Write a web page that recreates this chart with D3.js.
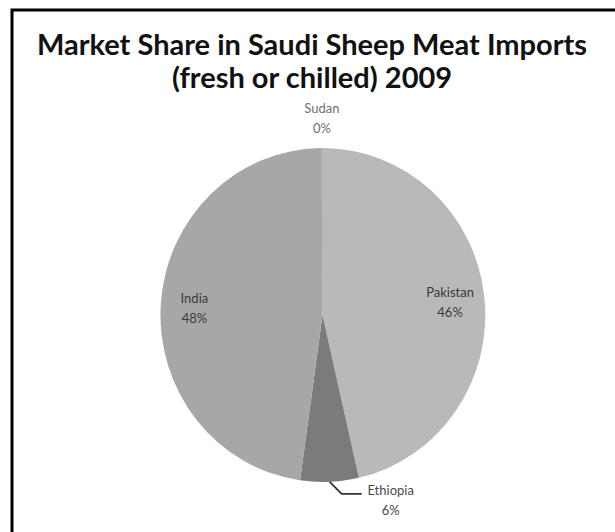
<!doctype html>
<html lang="en">
<head>
  <meta charset="utf-8">
  <title>Market Share in Saudi Sheep Meat Imports</title>
  <style>
    body { margin: 0; background: #fff; }
    svg { display: block; }
  </style>
</head>
<body>
<div id="chart"></div>

<script src="https://cdnjs.cloudflare.com/ajax/libs/d3/7.8.5/d3.min.js"></script>
<script>

// data (order as drawn clockwise from 12 o'clock)
const countries = ["Pakistan", "Ethiopia", "India", "Sudan"]
const shares = [46.4, 5.8, 47.7, 0.1]
const titleLines = ["Market Share in Saudi Sheep Meat Imports", "(fresh or chilled) 2009"]

const w = 615, h = 532

const svg = d3.select("#chart").append("svg")
  .attr("width", w)
  .attr("height", h)

// frame, only top and left edges are inside the picture
svg.append("rect")
  .attr("x", 12).attr("y", 10)
  .attr("width", w + 20).attr("height", h + 20)
  .attr("fill", "none")
  .attr("stroke", "#000")
  .attr("stroke-width", 3)

// title
svg.append("g").selectAll("text")
  .data(titleLines)
  .join("text")
    .attr("x", 312)
    .attr("y", (d, i) => 55 + i * 33)
    .attr("text-anchor", "middle")
    .style("font-family", "Lato, 'Open Sans', sans-serif")
    .style("font-weight", "bold")
    .style("font-size", "29px")
    .style("fill", "#111")
    .text(d => d)

// pie is a little taller than wide in the picture
const cx = 322.5, cy = 315, rx = 162.5, ry = 167

const data = countries.map((c, i) => ({ country: c, value: shares[i] }))

const pie = d3.pie().sort(null).value(d => d.value)
const arcs = pie(data)

const color = d3.scaleOrdinal()
  .domain(countries)
  .range(["#b9b9b9", "#7b7b7b", "#a7a7a7", "#909090"])

const arc = d3.arc().innerRadius(0).outerRadius(1)

svg.append("g")
  .attr("transform", `translate(${cx},${cy}) scale(${rx},${ry})`)
  .selectAll("path")
  .data(arcs)
  .join("path")
    .attr("d", arc)
    .attr("fill", d => color(d.data.country))

// point on the ellipse at a given angle and radius factor
const at = (a, k) => [cx + Math.sin(a) * rx * k, cy - Math.cos(a) * ry * k]
const mid = d => (d.startAngle + d.endAngle) / 2
const pct = d => Math.round(d.value) + "%"

const labels = svg.append("g")
  .style("font-family", "Lato, 'Open Sans', sans-serif")
  .style("font-size", "13px")

function label(x, y, d, fill) {
  const t = labels.append("text")
    .attr("x", x).attr("y", y)
    .attr("text-anchor", "middle")
    .style("fill", fill)
  t.append("tspan").attr("x", x).attr("dy", "-0.25em").text(d.data.country)
  t.append("tspan").attr("x", x).attr("dy", "1.55em").text(pct(d))
}

arcs.forEach(d => {
  const a = mid(d)
  if (d.data.country === "Ethiopia") {
    // outside label with leader line
    const p0 = at(a, 1.0)
    const p1 = [p0[0] + 12, p0[1] + 12]
    const p2 = [p1[0] + 20, p1[1]]
    labels.append("polyline")
      .attr("points", [p0, p1, p2].map(p => p.join(",")).join(" "))
      .attr("fill", "none")
      .attr("stroke", "#333")
      .attr("stroke-width", 1.8)
    label(p2[0] + 29, p2[1] + 4, d, "#4a4a4a")
  } else if (d.data.country === "Sudan") {
    const p = at(a, 1.19)
    label(p[0], p[1], d, "#707070")
  } else {
    const p = at(a, 0.79)
    label(p[0], p[1], d, "#3a3a3a")
  }
})

</script>
</body>
</html>
